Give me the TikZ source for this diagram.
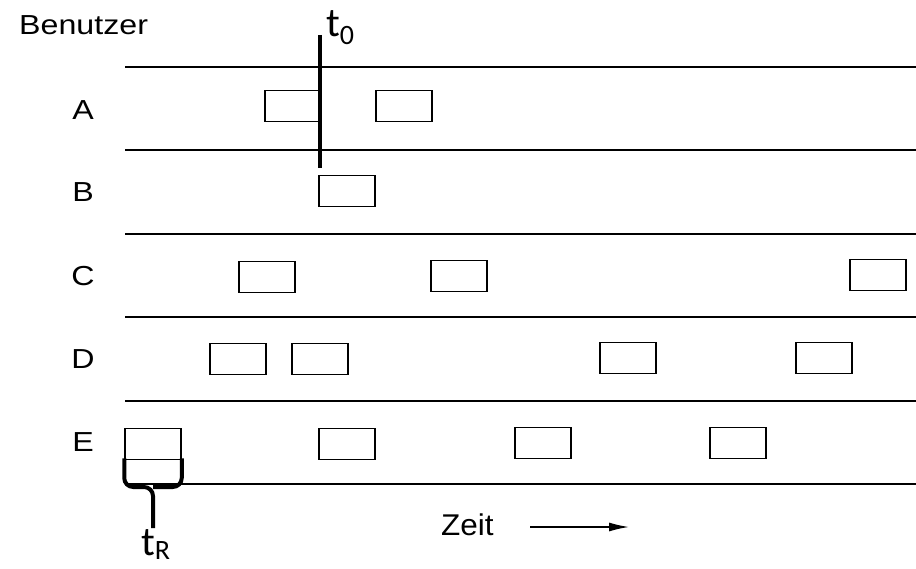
\documentclass[tikz,border=0pt]{standalone}
\usepackage{fontspec}
\setmainfont{Liberation Sans}
\newfontfamily\markfont{Carlito}
\usetikzlibrary{arrows.meta}
\newcommand{\widetext}[1]{\scalebox{1.17}[1.0]{#1}}
\begin{document}
\begin{tikzpicture}[x=1pt,y=-1pt,
  slot/.style={draw, line width=1.5pt, minimum width=56pt, minimum height=31pt, inner sep=0pt},
  rowline/.style={line width=1.5pt},
  rowlabel/.style={font=\fontsize{27.5}{30}\selectfont, inner sep=0pt},
  marker/.style={line width=4pt},
  mark label/.style={font=\markfont\fontsize{41}{44}\selectfont, inner sep=0pt}]
\useasboundingbox (0,0) rectangle (916,569);

% heading
\node[rowlabel, anchor=base west] (head) at (19,35) {\widetext{Benutzer}};

% lane separators
\foreach \i/\y in {1/67, 2/150, 3/234, 4/317, 5/401, 6/484} {
  \coordinate (l\i) at (125,\y);
  \coordinate (r\i) at (916,\y);
  \draw[rowline] (l\i) -- (r\i);
}

% user labels
\node[rowlabel] (uA) at (83,110) {\widetext{A}};
\node[rowlabel] (uB) at (83,192) {\widetext{B}};
\node[rowlabel] (uC) at (83,276) {\widetext{C}};
\node[rowlabel] (uD) at (83,359) {\widetext{D}};
\node[rowlabel] (uE) at (83,442) {\widetext{E}};

% transmissions
\node[slot] (A1) at (293,106) {};
\node[slot] (A2) at (404,106) {};
\node[slot] (B1) at (347,191) {};
\node[slot] (C1) at (267,277) {};
\node[slot] (C2) at (459,276) {};
\node[slot] (C3) at (878,275) {};
\node[slot] (D1) at (238,359) {};
\node[slot] (D2) at (320,359) {};
\node[slot] (D3) at (628,358) {};
\node[slot] (D4) at (824,358) {};
\node[slot] (E1) at (153,444) {};
\node[slot] (E2) at (347,444) {};
\node[slot] (E3) at (543,443) {};
\node[slot] (E4) at (738,443) {};

% time instant t0
\coordinate (t0top) at (320,35);
\coordinate (t0bot) at (320,168);
\draw[marker] (t0top) -- (t0bot);
\node[mark label, anchor=base west] (t0) at (326,37) {t\raisebox{-0.18em}{\fontsize{28}{30}\selectfont 0}};

% slot length tR
\coordinate (bl) at ([yshift=2pt]E1.south west);
\coordinate (br) at ([yshift=2pt]E1.south east);
\coordinate (bm) at (153,487);
\coordinate (btip) at (153,528);
\draw[marker, rounded corners=9pt] (bl) |- (bm) -- (btip);
\draw[marker, rounded corners=9pt] (br) |- (bm);
\node[mark label, anchor=base west] (tR) at (141,555) {t\raisebox{-0.12em}{\fontsize{28}{30}\selectfont R}};

% time axis
\node[font=\fontsize{30}{32}\selectfont, inner sep=0pt, anchor=base west] (zeit) at (441,535) {\scalebox{1.05}[1.0]{Zeit}};
\coordinate (za) at (530,527);
\coordinate (zb) at (629,527);
\draw[line width=1.5pt, -{Latex[length=20pt,width=9pt]}] (za) -- (zb);
\end{tikzpicture}
\end{document}
